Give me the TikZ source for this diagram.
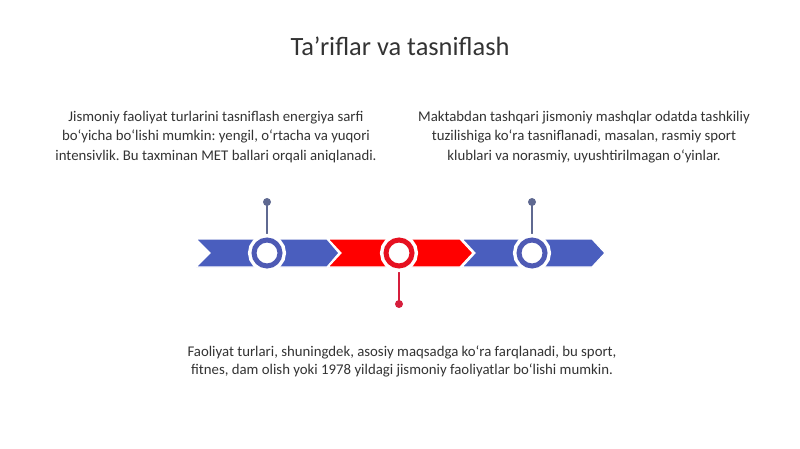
\documentclass[tikz,border=0pt]{standalone}
\usepackage{fontspec}
\setmainfont{Carlito}
\usepackage{xcolor}
\definecolor{arrowblue}{RGB}{74,94,190}
\definecolor{ringblue}{RGB}{78,90,180}
\definecolor{pingray}{RGB}{95,105,145}
\definecolor{arrowred}{RGB}{255,0,0}
\definecolor{ringred}{RGB}{230,16,32}
\definecolor{pinred}{RGB}{214,30,60}
\definecolor{txt}{RGB}{51,51,51}
\frenchspacing

\begin{document}
\begin{tikzpicture}[x=1pt,y=-1pt,
    chev/.style={draw=white,line width=1.2pt,line join=miter},
    ring/.style={circle,draw=#1,line width=5pt,fill=white,minimum size=26pt,inner sep=0pt,
      preaction={draw=white,line width=12pt}},
    dot/.style={circle,fill=#1,minimum size=8pt,inner sep=0pt},
    pin/.style={draw=#1,line width=1.4pt},
    body/.style={align=center,text=txt,font=\fontsize{14.8}{19.5}\selectfont}]
  \useasboundingbox (0,0) rectangle (800,449);
  % Title
  \node[text=txt,font=\fontsize{26.4}{30}\selectfont] (title) at (400,46) {Ta\char"27 riflar va tasniflash};
  % Arrow band
  \fill[arrowblue,chev] (196,239) -- (327,239) -- (339,253) -- (327,267) -- (196,267) -- (210,253) -- cycle;
  \fill[arrowred,chev] (328,239) -- (460,239) -- (473,253) -- (460,267) -- (328,267) -- (341,253) -- cycle;
  \fill[arrowblue,chev] (462,239) -- (592,239) -- (605,253) -- (592,267) -- (462,267) -- (475,253) -- cycle;
  % Pins
  \node[dot=pingray] (d1) at (267,202) {};
  \node[dot=pinred] (d2) at (399,304) {};
  \node[dot=pingray] (d3) at (532,202) {};
  \draw[pin=pingray] (d1.center) -- (267,253);
  \draw[pin=pinred] (d2.center) -- (399,253);
  \draw[pin=pingray] (d3.center) -- (532,253);
  \node[ring=ringblue] (c1) at (267,253) {};
  \node[ring=ringred] (c2) at (399,253) {};
  \node[ring=ringblue] (c3) at (532,253) {};
  % Texts
  \node[body] (t1) at (216,137) {Jismoniy faoliyat turlarini tasniflash energiya sarfi\\
    bo‘yicha bo‘lishi mumkin: yengil, o‘rtacha va yuqori\\
    intensivlik. Bu taxminan MET ballari orqali aniqlanadi.};
  \node[body] (t3) at (584,137) {Maktabdan tashqari jismoniy mashqlar odatda tashkiliy\\
    tuzilishiga ko‘ra tasniflanadi, masalan, rasmiy sport\\
    klublari va norasmiy, uyushtirilmagan o‘yinlar.};
  \node[body,font=\fontsize{14.8}{18}\selectfont] (t2) at (402,361) {Faoliyat turlari, shuningdek, asosiy maqsadga ko‘ra farqlanadi, bu sport,\\
    fitnes, dam olish yoki 1978 yildagi jismoniy faoliyatlar bo‘lishi mumkin.};
\end{tikzpicture}
\end{document}
